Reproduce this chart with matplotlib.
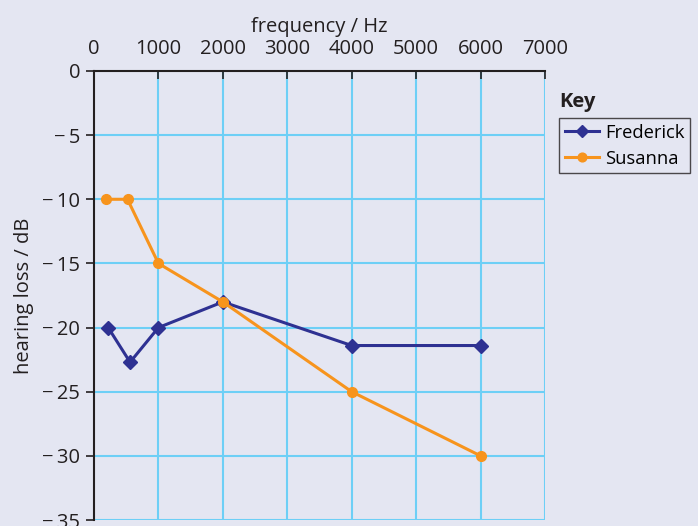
import numpy as np
from matplotlib import pyplot as plt

# data
fred_freq = [220, 560, 1000, 2000, 4000, 6000]
fred_loss = [-20, -22.7, -20, -18, -21.4, -21.4]
sus_freq = [180, 520, 1000, 2000, 4000, 6000]
sus_loss = [-10, -10, -15, -18, -25, -30]

xticks = [0, 1000, 2000, 3000, 4000, 5000, 6000, 7000]
yticks = [0, -5, -10, -15, -20, -25, -30, -35]

bg = '#e4e6f2'
grid_col = '#6dcff6'
navy = '#2e3192'
orange = '#f7941d'
ink = '#231f20'
fs = 14.5

plt.rcParams['font.family'] = ['Open Sans', 'DejaVu Sans']

fig = plt.figure(figsize=(6.98, 5.26), dpi=100, facecolor=bg)
ax = fig.add_axes([94/698, 1 - 520/526, (545 - 94)/698, (520 - 71)/526])
ax.set_facecolor(bg)

ax.set_xlim(0, 7000)
ax.set_ylim(-35, 0)

for x in xticks[1:]:
    ax.axvline(x, color=grid_col, lw=1.5, zorder=1)
for y in yticks[1:]:
    ax.axhline(y, color=grid_col, lw=1.5, zorder=1)

ax.plot(fred_freq, fred_loss, color=navy, lw=2.2, marker='D', ms=7,
        label='Frederick', zorder=3, clip_on=False)
ax.plot(sus_freq, sus_loss, color=orange, lw=2.2, marker='o', ms=7,
        label='Susanna', zorder=3, clip_on=False)

ax.xaxis.tick_top()
ax.xaxis.set_label_position('top')
ax.set_xticks(xticks)
ax.set_xticklabels([str(x) for x in xticks], fontsize=fs, color=ink)
ax.tick_params(axis='x', direction='in', length=6, width=1.2, pad=9, color=ink)
ax.set_xlabel('frequency / Hz', fontsize=fs, color=ink, labelpad=5)

ax.set_yticks(yticks)
ax.set_yticklabels(['0'] + ['\u2212\u2009' + str(-y) for y in yticks[1:]], fontsize=fs, color=ink)
ax.tick_params(axis='y', direction='out', length=6, width=1.2, pad=4, color=ink)
ax.set_ylabel('hearing loss / dB', fontsize=fs, color=ink, labelpad=6)

for s in ['bottom', 'right']:
    ax.spines[s].set_visible(False)
for s in ['left', 'top']:
    ax.spines[s].set_color(ink)
    ax.spines[s].set_linewidth(1.5)

fig.text(559/698, 1 - 102/526, 'Key', fontsize=fs, fontweight='bold', va='center', color=ink)
leg = fig.legend(loc='upper left', bbox_to_anchor=(559/698, 1 - 118/526), fontsize=13.2,
                 frameon=True, fancybox=False, edgecolor=ink, facecolor=bg,
                 handlelength=1.9, handletextpad=0.3, borderpad=0.3, labelspacing=0.45,
                 markerscale=0.9, borderaxespad=0)
leg.get_frame().set_linewidth(1.0)

plt.savefig('out.png', dpi=100, facecolor=bg)
